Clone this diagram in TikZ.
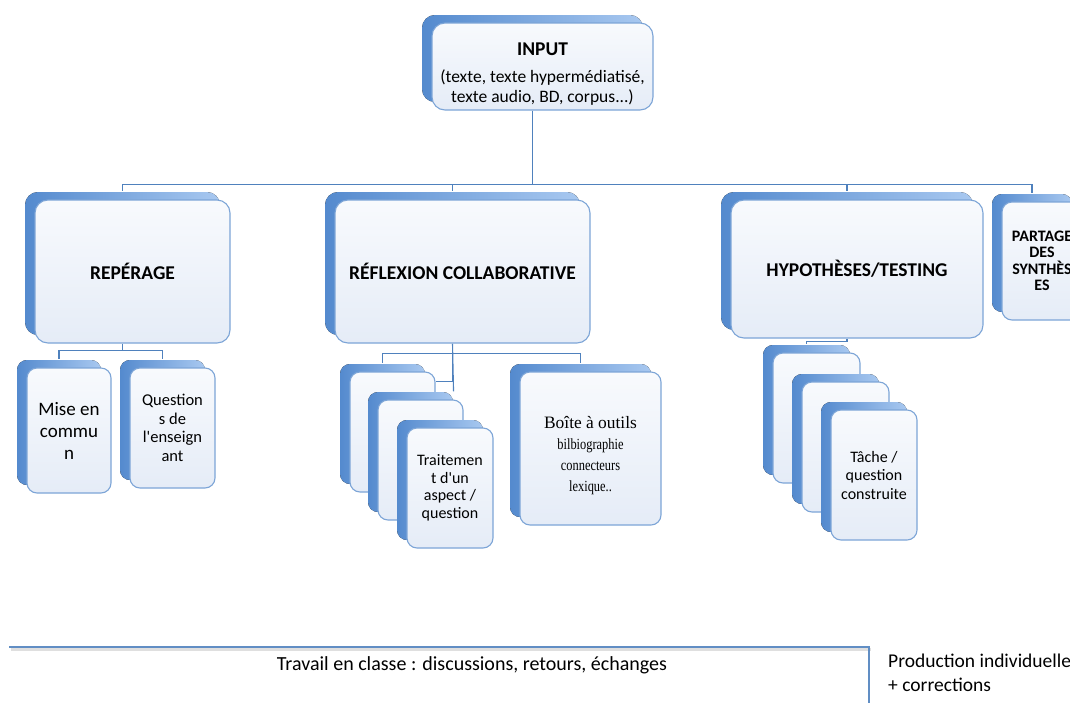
\documentclass[tikz,border=0pt]{standalone}
\usepackage{fontspec}
\setmainfont{Carlito}
\newfontfamily\toolfont{Liberation Serif}
\newfontfamily\listfont[FakeStretch=0.8]{Liberation Serif}
\usetikzlibrary{calc,shadows,backgrounds}
\definecolor{linkblue}{RGB}{79,129,189}
\definecolor{cardline}{RGB}{125,165,215}
\definecolor{cardtop}{RGB}{248,250,253}
\definecolor{cardbottom}{RGB}{229,236,247}
\definecolor{backdark}{RGB}{84,138,206}
\definecolor{backlight}{RGB}{168,200,240}

\tikzset{
  card/.style={draw=cardline, line width=1.1pt, rounded corners=10pt,
    top color=cardtop, bottom color=cardbottom, align=center, inner sep=2pt,
    copy shadow={shadow xshift=-10pt, shadow yshift=8pt, draw=none,
      left color=backdark, right color=backlight}},
  bigcard/.style={card, rounded corners=13pt, font=\fontsize{19.5}{23}\selectfont\bfseries},
  smallcard/.style={card, minimum width=85pt, minimum height=120pt, font=\fontsize{16}{18.5}\selectfont},
  link/.style={draw=linkblue, line width=1.1pt},
}

\begin{document}
\begin{tikzpicture}[x=1pt, y=-1pt]
  \clip (0,0) rectangle (1070,702);

  % main level
  \node[bigcard, minimum width=221pt, minimum height=87pt, font=\fontsize{17.5}{20}\selectfont] (input) at (542.5,66.5)
       {\fontsize{19.5}{23}\selectfont\bfseries\rule{0pt}{27pt}INPUT\\[7pt](texte, texte hypermédiatisé,\\texte audio, BD, corpus...)};
  \node[bigcard, minimum width=195pt, minimum height=143pt] (rep)  at (132.5,271.5) {REPÉRAGE};
  \node[bigcard, minimum width=255pt, minimum height=143pt] (refl) at (462.5,271.5) {RÉFLEXION COLLABORATIVE};
  \node[bigcard, minimum width=252pt, minimum height=138pt] (hyp)  at (857,269)     {HYPOTHÈSES/TESTING};
  \node[bigcard, rounded corners=10pt, minimum width=80pt, minimum height=118pt,
        font=\fontsize{16}{16.5}\selectfont\bfseries] (part) at (1042,261) {PARTAGE\\DES\\SYNTHÈS\\ES};

  % sous-niveaux
  \node[smallcard, minimum width=84pt, minimum height=125pt, font=\fontsize{19}{22}\selectfont]
       (mise) at (69,430.5) {Mise en\\commu\\n};
  \node[smallcard, font=\fontsize{16.5}{18.5}\selectfont] (quest) at (172.5,428)
       {Question\\s de\\l\textquotesingle enseign\\ant};

  \node[smallcard] (traitA) at (392.5,432) {};
  \node[smallcard] (traitB) at (420.5,460) {};
  \node[smallcard, minimum width=86pt, font=\fontsize{16}{17.5}\selectfont] (traitC) at (450,488)
       {Traitemen\\t d\textquotesingle un\\aspect /\\question};
  \node[smallcard, minimum width=141pt, minimum height=153pt, font=\listfont\fontsize{15.5}{21}\selectfont]
       (boite) at (590.5,448.5)
       {\toolfont\fontsize{17.4}{21}\selectfont\rule{0pt}{26pt}Boîte à outils\\bilbiographie\\connecteurs\\lexique..};

  \node[smallcard, minimum width=87pt, minimum height=130pt] (tacheA) at (816.5,418) {};
  \node[smallcard, minimum width=87pt, minimum height=130pt] (tacheB) at (845.5,447) {};
  \node[smallcard, minimum width=86pt, minimum height=130pt] (tacheC) at (874,475)
       {Tâche /\\question\\construite};

  % bas de page
  \node[font=\fontsize{20}{24}\selectfont, inner sep=0pt] (travail) at (472,665)
       {Travail en classe : discussions, retours, échanges};
  \node[anchor=west, align=left, inner sep=0pt, font=\fontsize{19.5}{24}\selectfont] (prod) at (888,673)
       {Production individuelle\\+ corrections};

  \begin{scope}[on background layer]
    \fill[white] (0,0) rectangle (1070,702);
    \foreach \n in {rep,refl,hyp,part}
      \draw[link] ($(input.south)+(-10,0)$) -- ++(0,74) -| ($(\n.north)+(-10,-8)$);
    \foreach \n in {mise,quest}
      \draw[link] ($(rep.south)+(-10,0)$) -- ++(0,7) -| ($(\n.north)+(-10,-8)$);
    \foreach \n in {traitA,boite}
      \draw[link] ($(refl.south)+(-10,0)$) -- ++(0,10) -| ($(\n.north)+(-10,-8)$);
    \draw[link] ($(refl.south)+(-10,0)$) |- ($(traitA.north east)+(0,10)$);
    \draw[link] ($(refl.south)+(-10,0)$) -- ($(traitB.north east)+(-10,-8)$);
    \draw[link] ($(hyp.south)+(-10,0)$) -- ++(0,3) -| ($(tacheA.north)+(-10,-8)$);
    % cadre du travail en classe
    \draw[gray!25, line width=2.5pt] (11,649.5) -- (871,649.5);
    \draw[linkblue!90, line width=2.2pt] (9,647) -| (869,710);
  \end{scope}
\end{tikzpicture}
\end{document}
